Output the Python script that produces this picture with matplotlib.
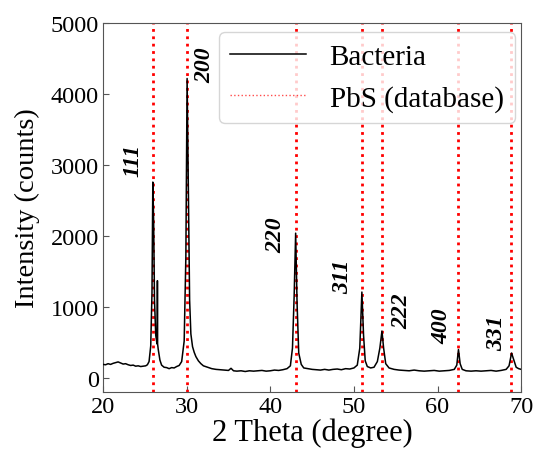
import matplotlib
matplotlib.use("Agg")
import matplotlib.pyplot as plt

# XRD pattern
two_theta = [20.0, 20.3, 20.6, 20.9, 21.2, 21.5, 21.8, 22.1, 22.4, 22.7, 23.0, 23.3, 23.6, 23.9,
             24.2, 24.5, 24.8, 25.1, 25.3, 25.5,
             25.7, 25.85, 25.95, 26.05, 26.15, 26.3, 26.45, 26.48, 26.5, 26.52, 26.6, 26.8,
             27.0, 27.3, 27.6, 27.9, 28.2, 28.5, 28.8, 29.1, 29.4, 29.7, 29.9, 30.05, 30.2,
             30.35, 30.5, 30.7, 30.9, 31.1, 31.4, 31.7, 32.0, 32.5, 33.0, 33.5, 34.0, 34.5,
             35.0, 35.3, 35.6, 36.0, 36.5, 37.0, 37.5, 38.0, 38.5, 39.0, 39.5, 40.0, 40.5,
             41.0, 41.5, 42.0, 42.4, 42.65, 42.85, 43.03, 43.2, 43.4, 43.7, 44.0, 44.5, 45.0,
             45.5, 46.0, 46.5, 47.0, 47.5, 48.0, 48.5, 49.0, 49.5, 50.0, 50.4, 50.7, 50.95,
             51.15, 51.35, 51.6, 52.0, 52.4, 52.8, 53.1, 53.35, 53.55, 53.8, 54.2, 54.8,
             55.4, 56.0, 56.6, 57.2, 57.8, 58.4, 59.0, 59.6, 60.2, 60.8, 61.4, 62.0, 62.3,
             62.5, 62.7, 62.95, 63.4, 64.0, 64.6, 65.2, 65.8, 66.4, 67.0, 67.6, 68.2, 68.55,
             68.85, 69.1, 69.4, 69.7, 70.0]
intensity = [190, 185, 200, 190, 205, 215, 225, 210, 195, 200, 185, 175, 180, 165,
             170, 160, 165, 170, 185, 230,
             450, 1200, 2760, 2200, 1100, 600, 480, 480, 1370, 480, 400, 250,
             180, 150, 145, 130, 145, 140, 160, 175, 230, 520, 1700, 4220, 2600,
             1100, 620, 440, 360, 300, 240, 200, 170, 150, 130, 120, 115, 110,
             105, 135, 100, 95, 100, 90, 100, 95, 100, 105, 95, 100, 110,
             105, 115, 130, 170, 420, 1150, 2040, 1050, 350, 190, 140, 130, 120,
             115, 110, 120, 110, 120, 125, 115, 130, 125, 140, 180, 420, 1210,
             600, 240, 160, 140, 150, 230, 420, 660, 420, 200, 140, 120,
             110, 105, 100, 110, 100, 95, 100, 105, 95, 100, 105, 120, 180,
             400, 200, 120, 100, 95, 100, 95, 100, 105, 95, 105, 120, 170,
             350, 260, 150, 130, 120]

# PbS reference peak positions and Miller indices
pbs_positions = [25.96, 30.07, 43.03, 50.95, 53.39, 62.48, 68.83]
hkl_labels = ["111", "200", "220", "311", "222", "400", "331"]
label_x = [23.6, 32.2, 40.6, 48.7, 55.7, 60.5, 67.1]
label_y = [3080, 4420, 2030, 1440, 950, 740, 650]

plt.rcParams['font.family'] = ['Liberation Serif', 'DejaVu Serif']

fig = plt.figure(figsize=(5.34, 4.56), dpi=100)
ax = fig.add_axes([0.193, 0.138, 0.783, 0.809])

ax.plot(two_theta, intensity, color='black', lw=1.1, label='Bacteria', zorder=3)
for p in pbs_positions:
    ax.axvline(p, color='red', ls=':', lw=2, zorder=2)
ax.plot([], [], color='red', ls=':', lw=1, alpha=0.7, label='PbS (database)')

for lx, ly, t in zip(label_x, label_y, hkl_labels):
    ax.text(lx, ly, t, rotation=90, fontsize=17, fontweight='bold', fontstyle='italic',
            ha='center', va='center')

ax.set_xlim(20, 70)
ax.set_ylim(-200, 5000)
ax.set_xticks([20, 30, 40, 50, 60, 70])
ax.set_yticks([0, 1000, 2000, 3000, 4000, 5000])
ax.tick_params(direction='in', labelsize=17.5, length=4, color='#555555', pad=3)
for s in ax.spines.values():
    s.set_color('#555555')
ax.set_xlabel('2 Theta (degree)', fontsize=22, labelpad=0)
ax.set_ylabel('Intensity (counts)', fontsize=20.5, labelpad=8)

ax.legend(loc='upper right', bbox_to_anchor=(0.986, 0.976), borderaxespad=0,
          fontsize=21, handlelength=2.6, framealpha=0.8)

fig.savefig('out.png', dpi=100)
